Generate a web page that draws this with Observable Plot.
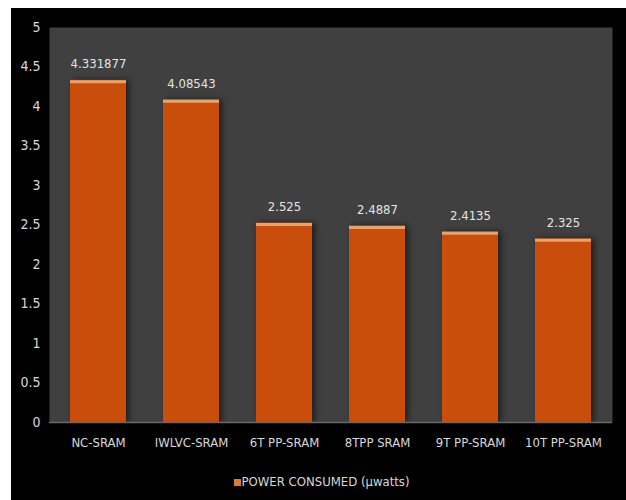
<!DOCTYPE html>
<html>
<head>
<meta charset="utf-8">
<script src="https://cdn.jsdelivr.net/npm/d3@7"></script>
<script src="https://cdn.jsdelivr.net/npm/@observablehq/plot@0.6"></script>
<style>
  html, body { margin: 0; padding: 0; background: #ffffff; }
  #wrap { position: absolute; left: 11px; top: 8px; width: 615px; height: 492px; background: #000; overflow: hidden; }
  #chart svg { display: block; font-stretch: condensed; }
  #chart svg text { font-stretch: condensed; }
  .bars rect { filter: drop-shadow(3px 0px 3px rgba(0,0,0,0.55)); }
  #legend { position: absolute; left: 0; top: 466px; width: 615px; text-align: center;
    font-family: "DejaVu Sans", sans-serif; font-stretch: condensed;
    font-size: 13px; color: #d8d8d8; line-height: 16px; padding-left: 6px; box-sizing: border-box; }
  #legend .sw { display: inline-block; width: 7px; height: 7px; background: #e07a2a; margin-right: 1px; vertical-align: 0px; }
</style>
</head>
<body>
<div id="wrap">
  <div id="chart"></div>
  <div id="legend"><span class="sw"></span>POWER CONSUMED (µwatts)</div>
</div>
<script>
const categories = ["NC-SRAM", "IWLVC-SRAM", "6T PP-SRAM", "8TPP SRAM", "9T PP-SRAM", "10T PP-SRAM"];
const values = [4.331877, 4.08543, 2.525, 2.4887, 2.4135, 2.325];
const valueLabels = ["4.331877", "4.08543", "2.525", "2.4887", "2.4135", "2.325"];
const yTicks = [0, 0.5, 1, 1.5, 2, 2.5, 3, 3.5, 4, 4.5, 5];

const data = categories.map((c, i) => ({cat: c, v: values[i], label: valueLabels[i]}));
const font = '"DejaVu Sans", sans-serif';

const chart = Plot.plot({
  width: 615,
  height: 460,
  marginLeft: 38,
  marginRight: 14,
  marginTop: 19,
  marginBottom: 46,
  style: {background: "#000", color: "#d8d8d8", fontFamily: font, fontSize: "13px"},
  x: {domain: categories, paddingInner: 0.4, paddingOuter: 0.2, label: null},
  y: {domain: [0, 5], label: null},
  marks: [
    Plot.frame({fill: "#404040", stroke: null}),
    Plot.axisX({tickSize: 0, tickPadding: 15, fontSize: 13, fill: "#d8d8d8", label: null}),
    Plot.axisY({ticks: yTicks, tickSize: 0, tickPadding: 9, tickFormat: d => String(d), fontSize: 14, fill: "#d8d8d8", label: null}),
    Plot.barY(data, {x: "cat", y: "v", fill: "#c94d0b", className: "bars"}),
    Plot.tickY(data, {x: "cat", y: "v", stroke: "#f0a062", strokeWidth: 3, dy: 1.5}),
    Plot.ruleY([0], {stroke: "#6a6a6a", strokeWidth: 1.5}),
    Plot.text(data, {x: "cat", y: "v", text: "label", dy: -12, lineAnchor: "bottom", fill: "#e4e4e4", fontSize: 13})
  ]
});
document.getElementById("chart").appendChild(chart);
</script>
</body>
</html>
